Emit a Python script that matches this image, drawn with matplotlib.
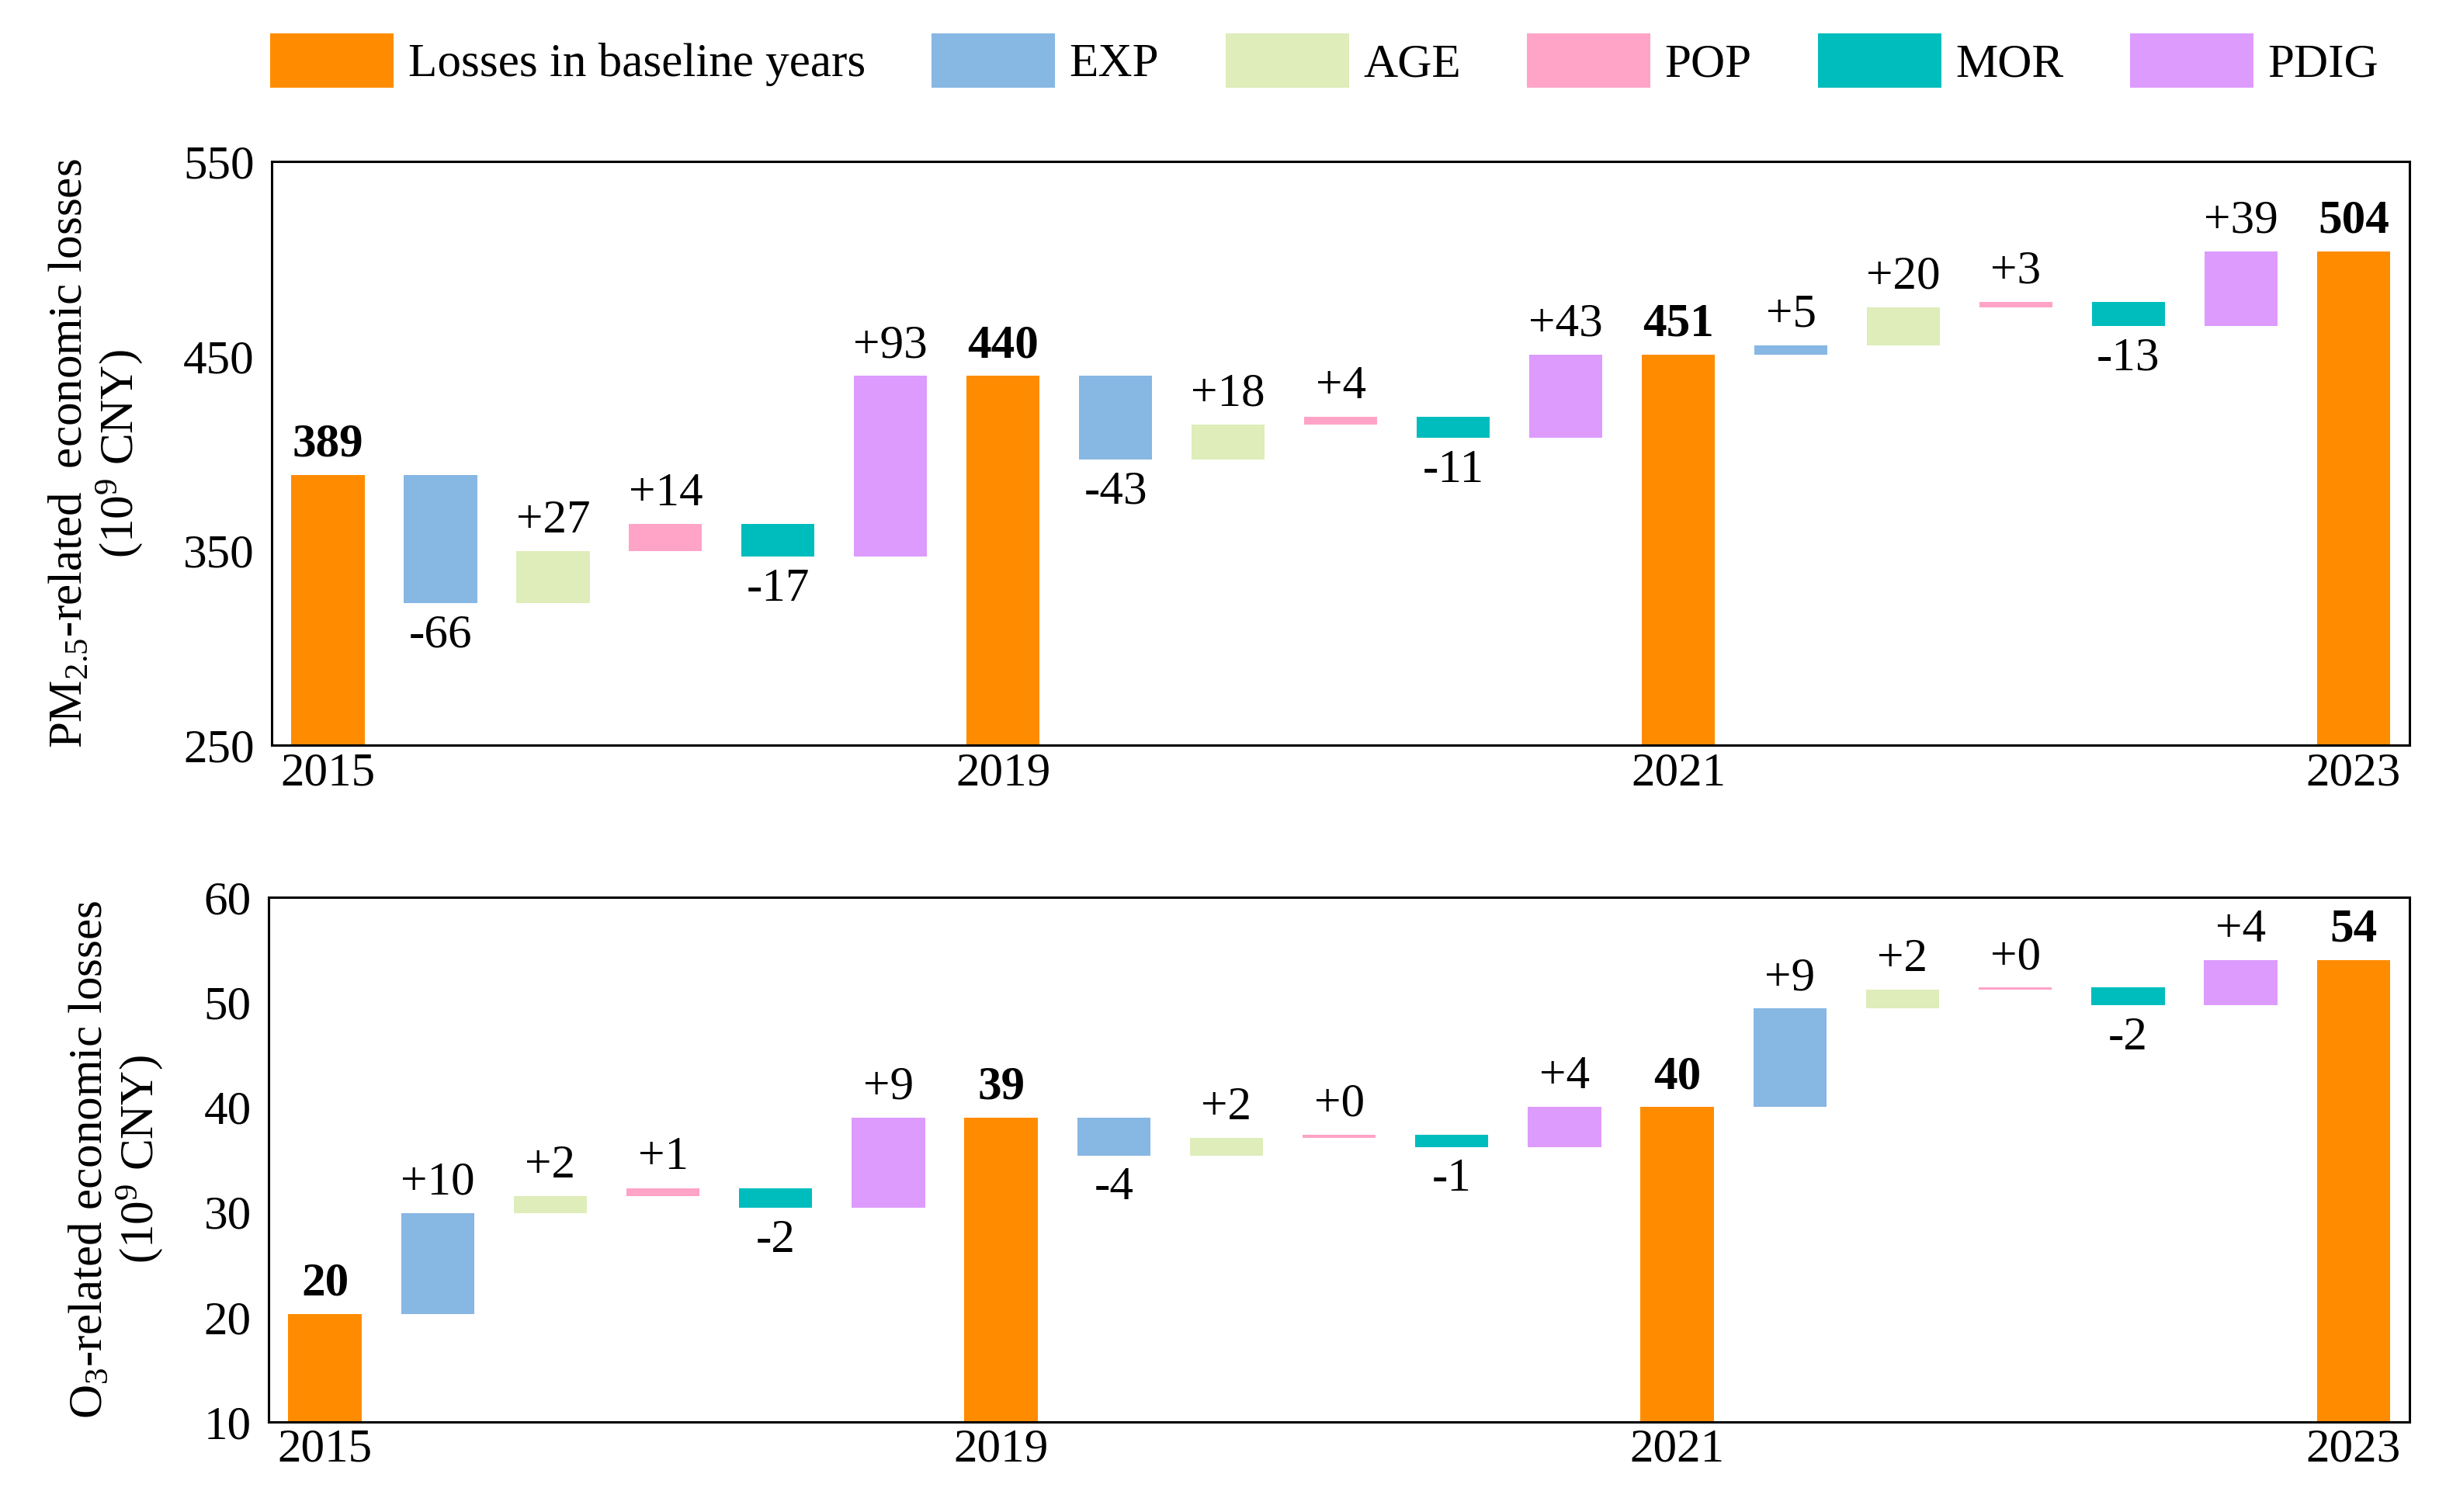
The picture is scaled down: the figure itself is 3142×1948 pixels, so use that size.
import matplotlib
matplotlib.use("Agg")
import matplotlib.pyplot as plt
from matplotlib.patches import Patch

plt.rcParams['font.family'] = ['Liberation Serif', 'DejaVu Serif']
plt.rcParams['mathtext.fontset'] = 'custom'
plt.rcParams['mathtext.rm'] = 'Liberation Serif'
plt.rcParams['mathtext.it'] = 'Liberation Serif:italic'
plt.rcParams['mathtext.bf'] = 'Liberation Serif:bold'

# ---------------- data ----------------
years = ['2015', '2019', '2021', '2023']
factors = ['EXP', 'AGE', 'POP', 'MOR', 'PDIG']
legend_base = 'Losses in baseline years'

# PM2.5-related losses (10^9 CNY)
pm_base = [389, 440, 451, 504]
pm_exp = [-66, -43, 4.6]
pm_age = [27, 18, 19.7]
pm_pop = [14, 4, 2.7]
pm_mor = [-17, -11, -12.6]
pm_pdig = [93, 43, 38.6]

# O3-related losses (10^9 CNY)
o3_base = [20.3, 39.0, 40.0, 54.0]
o3_exp = [9.6, -3.6, 9.4]
o3_age = [1.6, 1.7, 1.8]
o3_pop = [0.8, 0.3, 0.2]
o3_mor = [-1.9, -1.2, -1.7]
o3_pdig = [8.6, 3.8, 4.3]

pm_ylim = (250, 550)
pm_yticks = [250, 350, 450, 550]
o3_ylim = (10, 60)
o3_yticks = [10, 20, 30, 40, 50, 60]

# ---------------- style ----------------
base_color = '#FF8C00'
factor_colors = {'EXP': '#87B7E3', 'AGE': '#DEEDB9', 'POP': '#FFA3C7',
                 'MOR': '#00BDBD', 'PDIG': '#DD9BFD'}
FS = 22
BAR_W = 0.65

fig = plt.figure(figsize=(15.71, 9.74), dpi=200)
ax1 = fig.add_axes([0.1114, 0.507, 0.8766, 0.386])
ax2 = fig.add_axes([0.1101, 0.0595, 0.8779, 0.3471])


def waterfall(ax, base, incs, ylim, yticks, ylabel):
    x = 0
    year_pos = []
    for i, b in enumerate(base):
        ax.bar(x, b, width=BAR_W, color=base_color, zorder=2)
        ax.annotate(f'{b:.0f}', (x, b), xytext=(0, 4), textcoords='offset points',
                    ha='center', va='bottom', fontsize=FS, fontweight='bold')
        year_pos.append(x)
        x += 1
        if i < len(base) - 1:
            cum = b
            for f in factors:
                v = incs[f][i]
                bottom = min(cum, cum + v)
                ax.bar(x, abs(v), bottom=bottom, width=BAR_W,
                       color=factor_colors[f], zorder=2)
                if v >= 0:
                    ax.annotate(f'{v:+.0f}', (x, cum + v), xytext=(0, 4),
                                textcoords='offset points', ha='center',
                                va='bottom', fontsize=FS)
                else:
                    ax.annotate(f'{v:.0f}', (x, cum + v), xytext=(0, -5),
                                textcoords='offset points', ha='center',
                                va='top', fontsize=FS)
                cum += v
                x += 1
    ax.set_xlim(-0.5, x - 0.5)
    ax.set_ylim(*ylim)
    ax.set_yticks(yticks)
    ax.set_xticks(year_pos)
    ax.set_xticklabels(years)
    ax.tick_params(axis='both', length=0, labelsize=FS)
    ax.tick_params(axis='y', pad=8)
    ax.tick_params(axis='x', pad=3)
    for s in ax.spines.values():
        s.set_linewidth(1.1)
        s.set_color('black')
    ax.set_ylabel(ylabel, fontsize=FS, labelpad=18, linespacing=1.1)


pm_incs = {'EXP': pm_exp, 'AGE': pm_age, 'POP': pm_pop, 'MOR': pm_mor, 'PDIG': pm_pdig}
o3_incs = {'EXP': o3_exp, 'AGE': o3_age, 'POP': o3_pop, 'MOR': o3_mor, 'PDIG': o3_pdig}

waterfall(ax1, pm_base, pm_incs, pm_ylim, pm_yticks,
          'PM$_{\\mathrm{2.5}}$-related  economic losses\n(10$^{\\mathrm{9}}$ CNY)')
waterfall(ax2, o3_base, o3_incs, o3_ylim, o3_yticks,
          'O$_{\\mathrm{3}}$-related economic losses\n(10$^{\\mathrm{9}}$ CNY)')

handles = [Patch(facecolor=base_color, label=legend_base)] + \
          [Patch(facecolor=factor_colors[f], label=f) for f in factors]
fig.legend(handles=handles, loc='center', bbox_to_anchor=(0.543, 0.96), ncol=6,
           frameon=False, fontsize=FS, handlelength=2.6, handleheight=1.4,
           handletextpad=0.3, columnspacing=1.4, borderaxespad=0)

fig.savefig('out.png', dpi=200)
